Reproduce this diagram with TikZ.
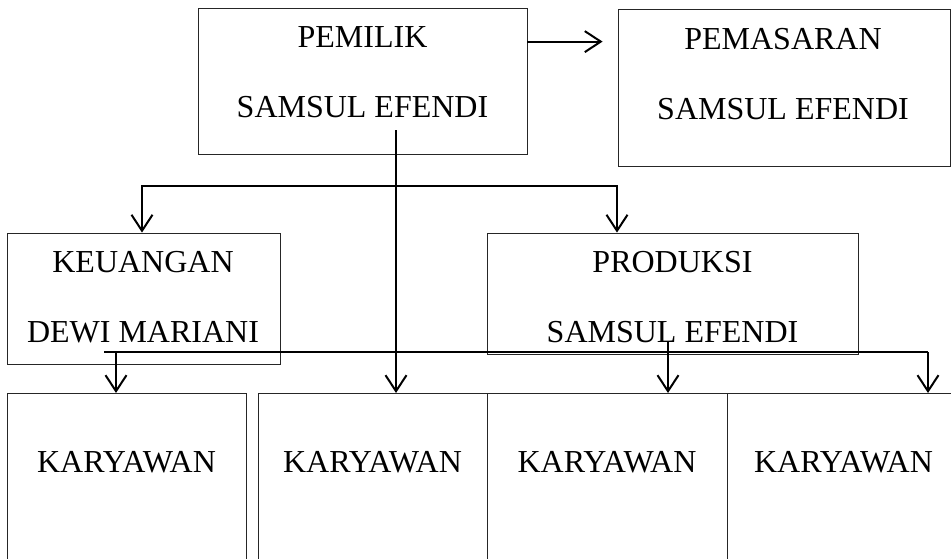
\documentclass[tikz,border=0pt]{standalone}
\usepackage{fontspec}
\setmainfont{Liberation Serif}
\usetikzlibrary{arrows.meta}
\tikzset{
  box/.style={draw=black!85, line width=0.8pt, rectangle, inner sep=0pt},
  lbl/.style={align=center, inner sep=0pt, font=\fontsize{32}{70}\selectfont},
  link/.style={draw=black, line width=2pt},
  arr/.style={link, -{Straight Barb[length=16pt, width=21pt]}},
  arrs/.style={link, {Straight Barb[length=16pt, width=21pt]}-{Straight Barb[length=16pt, width=21pt]}}
}
\begin{document}
\begin{tikzpicture}[x=1pt, y=-1pt]
  \useasboundingbox (0,0) rectangle (951,558);
  \clip (0,0) rectangle (951,558);
  \node[box, minimum width=329pt, minimum height=146pt] (pemilik) at (362.5,81) {};
  \node[box, minimum width=332pt, minimum height=157pt] (pemasaran) at (784,87.5) {};
  \node[box, minimum width=273pt, minimum height=131pt] (keuangan) at (143.5,298.5) {};
  \node[box, minimum width=371pt, minimum height=121pt] (produksi) at (672.5,293.5) {};
  \node[lbl] (pemiliktxt) at (362.5,72) {PEMILIK\\SAMSUL EFENDI};
  \node[lbl] (pemasarantxt) at (783,74) {PEMASARAN\\SAMSUL EFENDI};
  \node[lbl] (keuangantxt) at (143,297.5) {KEUANGAN\\DEWI MARIANI};
  \node[lbl] (produksitxt) at (672.5,297.5) {PRODUKSI\\SAMSUL EFENDI};
  \foreach \n/\x/\w in {1/126.5/239, 2/372.5/229, 3/607/240, 4/843.5/233} {
    \node[box, anchor=north, minimum width=\w pt, minimum height=220pt] (kar\n) at (\x,393) {};
    \node[lbl] (kar\n txt) at (\x,462.5) {KARYAWAN};
  }
  \coordinate (pm) at (396,130);
  \coordinate (hl) at (142,186);
  \coordinate (hr) at (617,186);
  \coordinate (ll) at (104,352);
  \coordinate (la) at (116,352);
  \coordinate (lr) at (928,352);
  \coordinate (pd) at (668,342);
  \draw[arr] ([yshift=-34pt]pemilik.north east) -- ([xshift=-15pt, yshift=-33pt]pemasaran.north west);
  \draw[arr] (pm) -- (pm |- kar2.north);
  \draw[arrs] (hl |- keuangan.north) -- (hl) -- (hr) -- (hr |- produksi.north);
  \draw[link] (ll) -- (lr);
  \draw[arr] (la) -- (la |- kar1.north);
  \draw[arr] (pd) -- (pd |- kar3.north);
  \draw[arr] (lr) -- (lr |- kar4.north);
\end{tikzpicture}
\end{document}
